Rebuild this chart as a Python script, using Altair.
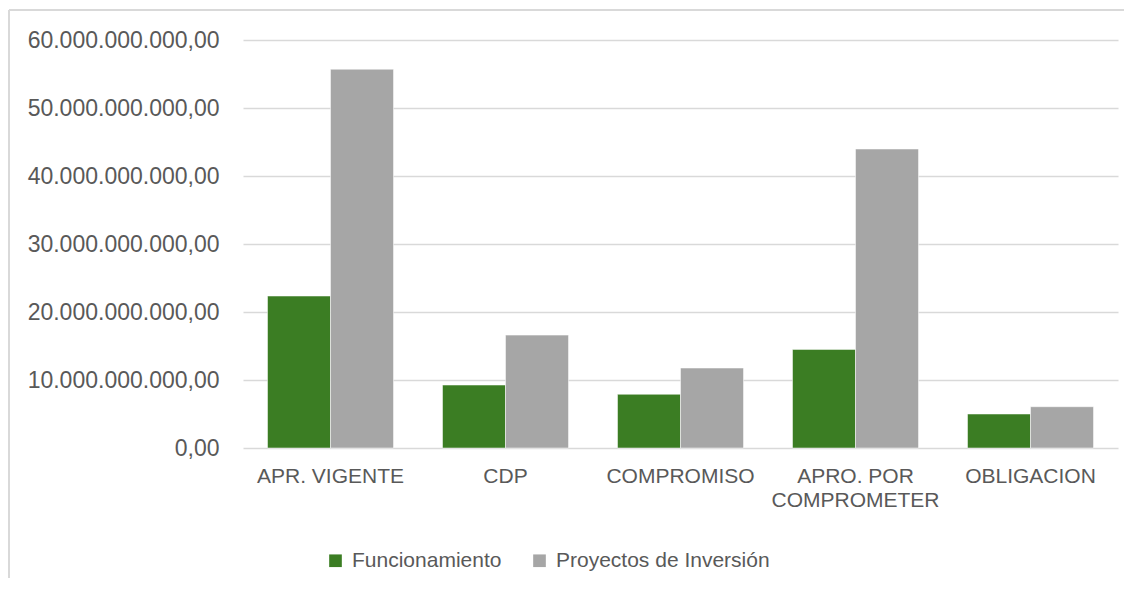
import altair as alt
import pandas as pd

categories = ["APR. VIGENTE", "CDP", "COMPROMISO", "APRO. POR COMPROMETER", "OBLIGACION"]
series = ["Funcionamiento", "Proyectos de Inversión"]
funcionamiento = [22.35e9, 9.26e9, 7.9e9, 14.5e9, 5.0e9]
inversion = [55.7e9, 16.6e9, 11.76e9, 43.97e9, 6.07e9]
y_ticks = [0, 10e9, 20e9, 30e9, 40e9, 50e9, 60e9]
colors = ["#3b7d23", "#a6a6a6"]

rows = []
for c, f, p in zip(categories, funcionamiento, inversion):
    rows.append({"cat": c, "serie": series[0], "valor": f})
    rows.append({"cat": c, "serie": series[1], "valor": p})
df = pd.DataFrame(rows)

FONT = "Liberation Sans"
TXT = "#595959"

bars = alt.Chart(df).mark_bar(stroke="white", strokeWidth=0.5).encode(
    x=alt.X("cat:N", sort=categories, title=None,
            scale=alt.Scale(paddingInner=0.28, paddingOuter=0.14),
            axis=alt.Axis(labelAngle=0, labelFont=FONT, labelFontSize=21, labelColor=TXT,
                          labelPadding=17, domain=False, ticks=False, labelLineHeight=24,
                          labelLimit=300, grid=False,
                          labelExpr="datum.label == 'APRO. POR COMPROMETER' ? ['APRO. POR', 'COMPROMETER'] : datum.label")),
    xOffset=alt.XOffset("serie:N", sort=series),
    y=alt.Y("valor:Q", title=None,
            scale=alt.Scale(domain=[0, 60e9], nice=False),
            axis=alt.Axis(values=y_ticks, labelFont=FONT, labelFontSize=23, labelColor=TXT,
                          labelPadding=24, domain=False, ticks=False,
                          gridColor="#d9d9d9", gridWidth=1.3, labelLimit=300,
                          labelExpr="replace(replace(replace(format(datum.value, ',.2f'), regexp(',', 'g'), '_'), regexp('[.]', 'g'), ','), regexp('_', 'g'), '.')")),
    color=alt.Color("serie:N", sort=series,
                    scale=alt.Scale(domain=series, range=colors),
                    legend=alt.Legend(title=None, orient="none", legendX=82, legendY=510,
                                      direction="horizontal", symbolType="square",
                                      symbolSize=160, symbolStrokeWidth=0,
                                      labelFont=FONT, labelFontSize=21, labelColor=TXT,
                                      labelOffset=6, columnPadding=27, labelLimit=400)),
)

border_left = alt.Chart(df).mark_rule(color="#d9d9d9", strokeWidth=1.5).encode(
    x=alt.value(-234), y=alt.value(-30), y2=alt.value(560))
border_top = alt.Chart(df).mark_rule(color="#d9d9d9", strokeWidth=1.5).encode(
    x=alt.value(-234), x2=alt.value(900), y=alt.value(-30))

chart = alt.layer(bars, border_left, border_top).properties(
    width=875, height=408,
    autosize=alt.AutoSizeParams(type="none"),
    padding={"left": 235, "top": 32, "right": 6, "bottom": 130},
).configure(background="white").configure_view(stroke="transparent", strokeWidth=0)

chart.save("out.html", embed_options={"renderer": "svg", "actions": False})
